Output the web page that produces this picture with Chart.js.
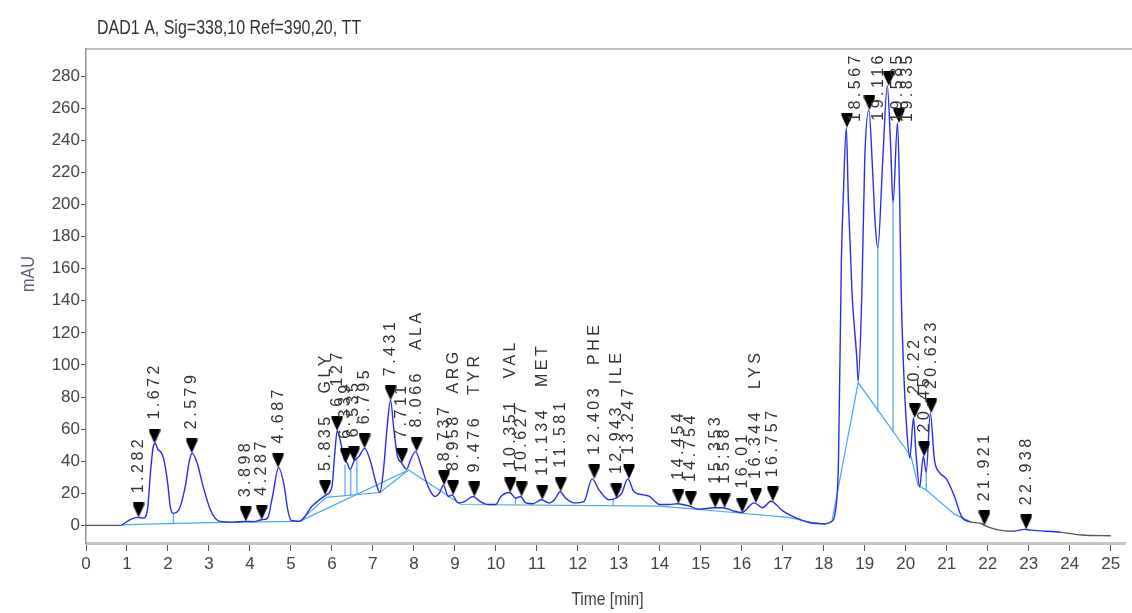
<!DOCTYPE html>
<html>
<head>
<meta charset="utf-8">
<title>DAD1 A chromatogram</title>
<script src="https://cdn.jsdelivr.net/npm/chart.js@4.4.1/dist/chart.umd.min.js"></script>
<style>
  html, body { margin: 0; padding: 0; background: #fff; }
  #wrap { width: 1132px; height: 613px; position: relative; }
</style>
</head>
<body>
<div id="wrap"><canvas id="chromChart"></canvas></div>
<script>
// Signal trace (time in min, signal in mAU)
const traceTime = [
  0, 0.85, 0.92, 1.09, 1.28, 1.40, 1.50, 1.58, 1.64, 1.69, 1.76, 1.82, 1.89, 1.99, 2.06, 2.13, 2.25,
  2.42, 2.52, 2.59, 2.71, 2.86, 3.03, 3.15, 3.27, 3.6, 3.9, 4.1, 4.29, 4.43, 4.55, 4.70, 4.84, 4.92,
  5.01, 5.21, 5.52, 5.86, 6.0, 6.07, 6.13, 6.22, 6.30, 6.37, 6.44, 6.54, 6.66, 6.80, 6.95, 7.07, 7.17,
  7.26, 7.35, 7.43, 7.51, 7.60, 7.70, 7.82, 7.92, 8.04, 8.18, 8.35, 8.52, 8.62, 8.72, 8.84, 8.93, 9.08,
  9.25, 9.44, 9.61, 9.81, 10.0, 10.12, 10.34, 10.48, 10.60, 10.73, 10.90, 11.11, 11.30, 11.43, 11.57,
  11.70, 11.91, 12.15, 12.35, 12.52, 12.76, 12.93, 13.07, 13.22, 13.37, 13.61, 13.75, 14.0, 14.24,
  14.43, 14.72, 14.96, 15.33, 15.54, 15.79, 16.0, 16.3, 16.51, 16.71, 17.0, 17.24, 17.68, 18.04, 18.2,
  18.28, 18.36, 18.43, 18.48, 18.55, 18.60, 18.69, 18.81, 18.84, 18.93, 19.0, 19.10, 19.2, 19.25,
  19.32, 19.44, 19.55, 19.63, 19.69, 19.80, 19.85, 19.89, 19.94, 20.02, 20.10, 20.19, 20.25, 20.34,
  20.43, 20.50, 20.60, 20.70, 20.82, 20.99, 21.19, 21.36, 21.60, 21.86, 21.92, 22.2, 22.6, 22.9,
  23.05, 23.8, 24.3, 25.0
];
const traceMAU = [
  0, 0, 1, 3.7, 5, 4.5, 10, 35, 49, 51, 47, 46, 42, 27, 11, 7.5, 9,
  24, 40, 45, 39, 24, 10, 4.5, 2.5, 2, 2.5, 2.3, 3.5, 4.5, 18, 36, 24, 10,
  3, 2.5, 12, 19, 24, 45, 59, 51, 41, 39, 35, 40, 43, 48, 39, 27, 20.5,
  35, 62, 78, 60, 43, 39, 35, 41, 46, 37, 24, 18, 20, 25, 18, 19, 14,
  15, 18, 15, 13, 13, 18, 20.5, 17, 18, 14, 13.5, 16, 14, 16, 21,
  17, 14, 15, 29, 22, 16, 17, 20, 29, 21, 19, 18, 13, 13,
  13.5, 12, 10, 11, 11, 9, 8, 14, 11, 15, 9, 5.6, 1.5, 1, 2.5,
  8, 41, 165, 207, 248, 203, 145, 103, 90, 145, 228, 259, 217, 190,
  173, 228, 274, 238, 201, 251, 207, 145, 103, 62, 42, 67, 45, 24,
  43, 33, 70, 41, 33, 29, 18, 5.6, 2, 1, 0, -2.5, -3.7, -2.5,
  -3, -4.4, -6, -6.5
];
// time ranges where the trace is drawn grey (no integrated peak)
const greyRanges = [[0, 0.88], [17.9, 18.22], [21.55, 22.75], [23.6, 25.1]];

// Integrated peaks
const peakTimes = [
  1.282, 1.672, 2.579, 3.898, 4.287, 4.687, 5.835, 6.127, 6.339, 6.535, 6.795, 7.431, 7.711, 8.066,
  8.737, 8.958, 9.476, 10.351, 10.627, 11.134, 11.581, 12.403, 12.943, 13.247, 14.454, 14.754,
  15.353, 15.58, 16.01, 16.344, 16.757, 18.567, 19.116, 19.585, 19.835, 20.22, 20.45, 20.623,
  21.921, 22.938
];
const peakHeights = [
  5, 51, 45, 2.5, 3.5, 36, 19, 59, 39, 40, 48, 78, 39, 46,
  25, 19, 18, 20.5, 18, 16, 21, 29, 17, 29, 13.5, 12,
  11, 11, 8, 14, 15, 248, 259, 274, 251, 67, 43, 70,
  0, -2.5
];
const peakLabels = [
  "1.282", "1.672", "2.579", "3.898", "4.287", "4.687", "5.835 GLY", "6.127", "6.339", "6.535",
  "6.795", "7.431", "7.711", "8.066 ALA", "8.737", "8.958 ARG", "9.476 TYR", "10.351 VAL", "10.627",
  "11.134 MET", "11.581", "12.403 PHE", "12.943 ILE", "13.247", "14.454", "14.754", "15.353",
  "15.58", "16.01", "16.344 LYS", "16.757", "18.567", "19.116", "19.585", "19.835", "20.22",
  "20.45", "20.623", "21.921", "22.938"
];

// Integration baselines (time, mAU)
const baseline1 = [[0.88, 0.3], [1.45, 0.8], [3.3, 1.8], [5.21, 2.5]];
const baseline2 = [[5.21, 2.5], [5.86, 17.5], [7.17, 20.5]];
const baseline3 = [[5.21, 2.5], [7.87, 34.5]];
const baseline4 = [[7.17, 20.5], [7.87, 34.5]];
const baseline5 = [[7.87, 34.5], [9.15, 13], [14.0, 12], [15.8, 8], [17.14, 5], [17.68, 2], [18.04, 0.8], [18.2, 2.5]];
const baseline6 = [[18.2, 2.5], [18.84, 89], [20.13, 43], [20.3, 25], [20.5, 22], [21.19, 7], [21.6, 2]];

// Peak drop lines: time, baseline value, trace value
const dropTimes = [2.13, 6.32, 6.46, 6.61, 10.48, 12.86, 19.32, 19.69, 20.50];
const dropBase = [1.2, 18.5, 18.8, 19.1, 13, 12.5, 71, 58, 22];
const dropTop = [7.5, 38, 35, 41, 17, 16.5, 173, 201, 33];

const yTickValues = [0, 20, 40, 60, 80, 100, 120, 140, 160, 180, 200, 220, 240, 260, 280];
const xTickValues = [0, 1, 2, 3, 4, 5, 6, 7, 8, 9, 10, 11, 12, 13, 14, 15, 16, 17, 18, 19, 20, 21, 22, 23, 24, 25];

const chartTitle = "DAD1 A, Sig=338,10 Ref=390,20, TT";
const xTitle = "Time [min]";
const yTitle = "mAU";

const FONT = "'Liberation Sans', Arial, sans-serif";
const TRACE_BLUE = "#2b2bef";
const BASE_BLUE = "#4aa6f2";

Chart.defaults.font.family = FONT;
Chart.defaults.color = "#444";

function toPoints(list) {
  return list.map(p => ({ x: p[0], y: p[1] }));
}

function isGrey(t0, t1) {
  return greyRanges.some(r => t0 >= r[0] && t1 <= r[1]);
}

// text squeezed horizontally, like the narrow font of the original
function narrowText(ctx, text, x, y, squeeze) {
  ctx.save();
  ctx.translate(x, y);
  ctx.scale(squeeze, 1);
  ctx.fillText(text, 0, 0);
  ctx.restore();
}

// black peak marker, tip at the centre of the image
const markerImg = document.createElement("canvas");
markerImg.width = 12;
markerImg.height = 30;
const m = markerImg.getContext("2d");
m.fillStyle = "#000";
m.beginPath();
m.moveTo(0.5, 0);
m.lineTo(11.5, 0);
m.lineTo(11.5, 3);
m.lineTo(6, 15);
m.lineTo(0.5, 3);
m.closePath();
m.fill();

const datasets = [];

datasets.push({
  label: "signal",
  data: traceTime.map((t, i) => ({ x: t, y: traceMAU[i] })),
  borderColor: TRACE_BLUE,
  borderWidth: 1.4,
  pointRadius: 0,
  cubicInterpolationMode: "monotone",
  segment: {
    borderColor: (c) => (isGrey(c.p0.parsed.x, c.p1.parsed.x) ? "#555" : TRACE_BLUE),
  },
  order: 1,
});

datasets.push({
  label: "peaks",
  data: peakTimes.map((t, i) => ({ x: t, y: peakHeights[i] })),
  showLine: false,
  pointStyle: markerImg,
  pointRadius: 6,
  order: 0,
});

[baseline1, baseline2, baseline3, baseline4, baseline5, baseline6].forEach((seg) => {
  datasets.push({
    label: "baseline",
    data: toPoints(seg),
    borderColor: BASE_BLUE,
    borderWidth: 1.2,
    pointRadius: 0,
    tension: 0,
    order: 3,
  });
});

dropTimes.forEach((t, i) => {
  datasets.push({
    label: "drop",
    data: [{ x: t, y: dropBase[i] }, { x: t, y: dropTop[i] }],
    borderColor: BASE_BLUE,
    borderWidth: 1.2,
    pointRadius: 0,
    order: 2,
  });
});

// rotated retention time labels above the markers
const peakLabelPlugin = {
  id: "peakLabels",
  afterDatasetsDraw(chart) {
    const { ctx, chartArea, scales } = chart;
    ctx.save();
    ctx.font = "16px " + FONT;
    ctx.letterSpacing = "3.5px";
    ctx.wordSpacing = "12px";
    ctx.fillStyle = "#333";
    ctx.textAlign = "left";
    ctx.textBaseline = "middle";
    peakTimes.forEach((t, i) => {
      let px = scales.x.getPixelForValue(t);
      let start = scales.y.getPixelForValue(peakHeights[i]) - 24;
      const w = ctx.measureText(peakLabels[i]).width;
      if (start - w < chartArea.top + 3) {
        start = chartArea.top + 3 + w;
        px += 9;
      }
      ctx.save();
      ctx.translate(px, start);
      ctx.rotate(-Math.PI / 2);
      ctx.fillText(peakLabels[i], 0, 0);
      ctx.restore();
    });
    ctx.restore();
  },
};

// frame line on top, the titles
const framePlugin = {
  id: "frame",
  afterDraw(chart) {
    const { ctx, chartArea } = chart;
    ctx.save();
    ctx.strokeStyle = "#a9adb8";
    ctx.lineWidth = 1.5;
    ctx.beginPath();
    ctx.moveTo(chartArea.left, chartArea.top);
    ctx.lineTo(chart.width, chartArea.top);
    ctx.stroke();

    ctx.fillStyle = "#333";
    ctx.font = "20px " + FONT;
    ctx.textBaseline = "middle";
    ctx.textAlign = "left";
    narrowText(ctx, chartTitle, 97, 28, 0.8);

    ctx.fillStyle = "#444";
    ctx.font = "19px " + FONT;
    ctx.textAlign = "center";
    narrowText(ctx, xTitle, (chartArea.left + chartArea.right) / 2 + 2, 600, 0.82);

    ctx.translate(29, 274);
    ctx.rotate(-Math.PI / 2);
    ctx.fillStyle = "#5a6070";
    narrowText(ctx, yTitle, 0, 0, 0.85);
    ctx.restore();
  },
};

new Chart(document.getElementById("chromChart"), {
  type: "line",
  data: { datasets },
  plugins: [peakLabelPlugin, framePlugin],
  options: {
    responsive: true,
    maintainAspectRatio: false,
    animation: false,
    devicePixelRatio: 1,
    layout: { padding: { top: 49, right: 1, left: 0, bottom: 0 } },
    plugins: {
      legend: { display: false },
      tooltip: { enabled: false },
      title: { display: false },
    },
    scales: {
      x: {
        type: "linear",
        min: 0,
        max: 25.35,
        afterBuildTicks: (s) => { s.ticks = xTickValues.map((v) => ({ value: v })); },
        afterFit: (s) => { s.height = 70; },
        ticks: { font: { size: 17 }, color: "#444", padding: 3, maxRotation: 0, autoSkip: false },
        grid: { drawOnChartArea: false, drawTicks: true, tickLength: 8, tickColor: "#555", tickWidth: 1 },
        border: { color: "#c4c4c4", width: 3 },
      },
      y: {
        min: -11,
        max: 297,
        afterBuildTicks: (s) => { s.ticks = yTickValues.map((v) => ({ value: v })); },
        afterFit: (s) => { s.width = 86; },
        ticks: { font: { size: 17 }, color: "#444", padding: 1, autoSkip: false },
        grid: { drawOnChartArea: false, drawTicks: true, tickLength: 5, tickColor: "#555", tickWidth: 1 },
        border: { color: "#8a90a0", width: 1.5 },
      },
    },
  },
});
</script>
</body>
</html>
